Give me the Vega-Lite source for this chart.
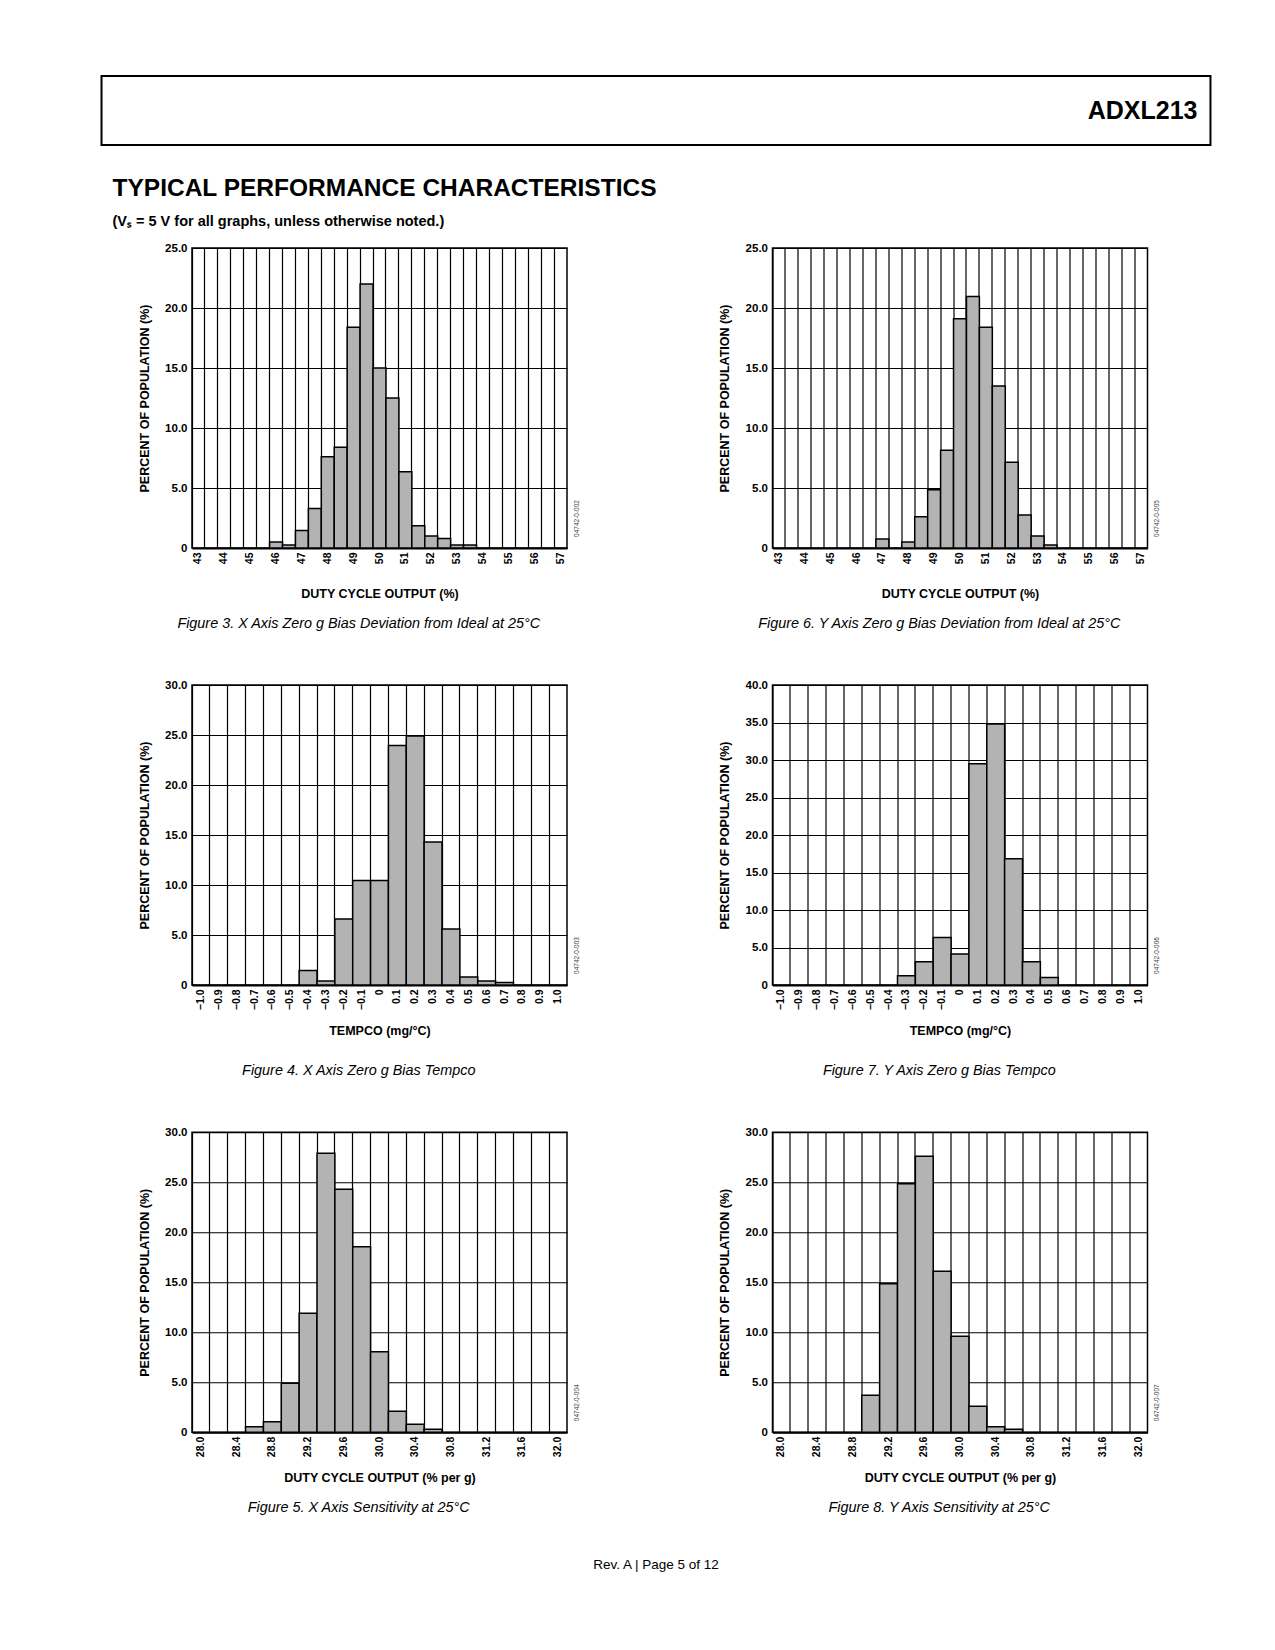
{
  "$schema": "https://vega.github.io/schema/vega-lite/v6.json",
  "background": "white",
  "padding": {"left": 100, "top": 75, "right": 0, "bottom": 0},
  "spacing": 103,
  "bounds": "flush",
  "title": {"text": "Rev. A | Page 5 of 12", "orient": "bottom", "anchor": "middle", "frame": "bounds", "fontStyle": "normal", "fontSize": 13.5, "offset": 43},
  "config": {
    "view": {"stroke": null},
    "font": "Liberation Sans",
    "title": {"font": "Liberation Sans", "fontStyle": "italic", "fontWeight": "normal", "fontSize": 14.4, "color": "black", "orient": "bottom", "anchor": "middle", "frame": "bounds"},
    "axis": {"labelFont": "Liberation Sans", "labelFontWeight": "bold", "labelColor": "black", "titleFont": "Liberation Sans", "titleFontWeight": "bold", "titleFontSize": 12.5, "titleColor": "black"},
    "axisBottom": {"grid": true, "gridColor": "black", "gridWidth": 1.2, "gridOpacity": 1, "ticks": false, "domainColor": "black", "domainWidth": 2, "labelAngle": 270, "labelPadding": 4, "labelFontSize": 10.5, "labelOverlap": false},
    "axisLeft": {"grid": true, "gridColor": "black", "gridWidth": 1.2, "gridOpacity": 1, "ticks": false, "domain": false, "labelPadding": 5, "labelFontSize": 11.5},
    "axisRight": {"labels": false, "ticks": false, "domain": false, "grid": false, "titleFont": "Liberation Sans", "titleFontWeight": "normal", "titleFontSize": 6.5, "titleColor": "#3a3a3a"}
  },
  "datasets": {
    "header": [{"part": "ADXL213"}],
    "fig3": [{"bin":"46","pct":0.5},{"bin":"46.5","pct":0.25},{"bin":"47","pct":1.45},{"bin":"47.5","pct":3.3},{"bin":"48","pct":7.6},{"bin":"48.5","pct":8.4},{"bin":"49","pct":18.4},{"bin":"49.5","pct":22.0},{"bin":"50","pct":15.0},{"bin":"50.5","pct":12.5},{"bin":"51","pct":6.35},{"bin":"51.5","pct":1.85},{"bin":"52","pct":1.0},{"bin":"52.5","pct":0.8},{"bin":"53","pct":0.25},{"bin":"53.5","pct":0.25}],
    "fig6": [{"bin":"47","pct":0.75},{"bin":"48","pct":0.5},{"bin":"48.5","pct":2.6},{"bin":"49","pct":4.85},{"bin":"49.5","pct":8.15},{"bin":"50","pct":19.1},{"bin":"50.5","pct":20.95},{"bin":"51","pct":18.4},{"bin":"51.5","pct":13.5},{"bin":"52","pct":7.15},{"bin":"52.5","pct":2.75},{"bin":"53","pct":1.0},{"bin":"53.5","pct":0.25}],
    "fig4": [{"bin":"−0.4","pct":1.45},{"bin":"−0.3","pct":0.4},{"bin":"−0.2","pct":6.6},{"bin":"−0.1","pct":10.45},{"bin":"0","pct":10.45},{"bin":"0.1","pct":23.95},{"bin":"0.2","pct":24.9},{"bin":"0.3","pct":14.3},{"bin":"0.4","pct":5.6},{"bin":"0.5","pct":0.8},{"bin":"0.6","pct":0.4},{"bin":"0.7","pct":0.25}],
    "fig7": [{"bin":"−0.3","pct":1.25},{"bin":"−0.2","pct":3.1},{"bin":"−0.1","pct":6.35},{"bin":"0","pct":4.15},{"bin":"0.1","pct":29.5},{"bin":"0.2","pct":34.8},{"bin":"0.3","pct":16.85},{"bin":"0.4","pct":3.1},{"bin":"0.5","pct":1.0}],
    "fig5": [{"bin":"28.6","pct":0.55},{"bin":"28.8","pct":1.05},{"bin":"29.0","pct":4.9},{"bin":"29.2","pct":11.9},{"bin":"29.4","pct":27.9},{"bin":"29.6","pct":24.3},{"bin":"29.8","pct":18.55},{"bin":"30.0","pct":8.05},{"bin":"30.2","pct":2.1},{"bin":"30.4","pct":0.8},{"bin":"30.6","pct":0.3}],
    "fig8": [{"bin":"29.0","pct":3.7},{"bin":"29.2","pct":14.85},{"bin":"29.4","pct":24.85},{"bin":"29.6","pct":27.6},{"bin":"29.8","pct":16.1},{"bin":"30.0","pct":9.6},{"bin":"30.2","pct":2.6},{"bin":"30.4","pct":0.55},{"bin":"30.6","pct":0.3}]
  },
  "vconcat": [
    {
      "width": 955.5, "height": 69,
      "title": {"text": "TYPICAL PERFORMANCE CHARACTERISTICS", "subtitle": "(Vₛ = 5 V for all graphs, unless otherwise noted.)", "anchor": "start", "frame": "group", "offset": 31, "dx": -79.5, "font": "Liberation Sans", "fontStyle": "normal", "fontWeight": "bold", "fontSize": 24.5, "subtitleFont": "Liberation Sans", "subtitleFontStyle": "normal", "subtitleFontWeight": "bold", "subtitleFontSize": 14.5, "subtitleColor": "black", "subtitlePadding": 13},
      "data": {"name": "header"},
      "layer": [
        {"mark": {"type": "rect", "fill": "white", "stroke": "black", "strokeWidth": 2},
         "encoding": {
           "x": {"datum": -0.0947, "type": "quantitative", "scale": {"domain": [0, 1], "nice": false}, "axis": null},
           "x2": {"datum": 1.0659},
           "y": {"datum": 0, "type": "quantitative", "scale": {"domain": [0, 1], "nice": false}, "axis": null},
           "y2": {"datum": 1}
         }},
        {"mark": {"type": "text", "dx": -13, "align": "right", "baseline": "middle", "font": "Liberation Sans", "fontSize": 25, "fontWeight": "bold", "color": "black"},
         "encoding": {
           "x": {"datum": 1.0659, "type": "quantitative"},
           "y": {"datum": 0.5, "type": "quantitative"},
           "text": {"field": "part"}
         }}
      ]
    },
    {
      "vconcat": [
        {
          "concat": [
            {
              "width": 375, "height": 300,
              "view": {"stroke": "black", "strokeWidth": 1.5},
              "title": {"text": "Figure 3. X Axis Zero g Bias Deviation from Ideal at 25°C", "offset": 17},
              "data": {"name": "fig3"},
              "layer": [
                {"mark": {"type": "bar", "fill": "#b3b3b3", "stroke": "black", "strokeWidth": 1.5},
                 "encoding": {
                   "x": {"field": "bin", "type": "ordinal", "scale": {"domain": ["43","43.5","44","44.5","45","45.5","46","46.5","47","47.5","48","48.5","49","49.5","50","50.5","51","51.5","52","52.5","53","53.5","54","54.5","55","55.5","56","56.5","57"], "paddingInner": 0, "paddingOuter": 0},
                         "axis": {"title": "DUTY CYCLE OUTPUT (%)", "bandPosition": 0, "labelExpr": "indexof(datum.value, '.') < 0 ? datum.value : ''", "titleY": 45, "titleBaseline": "middle"}},
                   "y": {"field": "pct", "type": "quantitative", "stack": null, "scale": {"domain": [0, 25], "nice": false},
                         "axis": {"title": "PERCENT OF POPULATION (%)", "values": [0, 5, 10, 15, 20, 25], "labelExpr": "datum.value == 0 ? '0' : format(datum.value, '.1f')", "titleX": -48, "titleBaseline": "middle"}}
                 }},
                {"mark": {"type": "bar", "opacity": 0},
                 "encoding": {"y": {"field": "pct", "type": "quantitative", "stack": null, "scale": {"domain": [0, 25], "nice": false},
                   "axis": {"orient": "right", "title": "04742-0-002", "titleX": 9, "titleY": 270, "titleAngle": 270, "titleAlign": "center", "titleBaseline": "middle"}}}}
              ],
              "resolve": {"axis": {"y": "independent"}}
            },
            {
              "width": 375, "height": 300,
              "view": {"stroke": "black", "strokeWidth": 1.5},
              "title": {"text": "Figure 6. Y Axis Zero g Bias Deviation from Ideal at 25°C", "offset": 17},
              "data": {"name": "fig6"},
              "layer": [
                {"mark": {"type": "bar", "fill": "#b3b3b3", "stroke": "black", "strokeWidth": 1.5},
                 "encoding": {
                   "x": {"field": "bin", "type": "ordinal", "scale": {"domain": ["43","43.5","44","44.5","45","45.5","46","46.5","47","47.5","48","48.5","49","49.5","50","50.5","51","51.5","52","52.5","53","53.5","54","54.5","55","55.5","56","56.5","57"], "paddingInner": 0, "paddingOuter": 0},
                         "axis": {"title": "DUTY CYCLE OUTPUT (%)", "bandPosition": 0, "labelExpr": "indexof(datum.value, '.') < 0 ? datum.value : ''", "titleY": 45, "titleBaseline": "middle"}},
                   "y": {"field": "pct", "type": "quantitative", "stack": null, "scale": {"domain": [0, 25], "nice": false},
                         "axis": {"title": "PERCENT OF POPULATION (%)", "values": [0, 5, 10, 15, 20, 25], "labelExpr": "datum.value == 0 ? '0' : format(datum.value, '.1f')", "titleX": -48, "titleBaseline": "middle"}}
                 }},
                {"mark": {"type": "bar", "opacity": 0},
                 "encoding": {"y": {"field": "pct", "type": "quantitative", "stack": null, "scale": {"domain": [0, 25], "nice": false},
                   "axis": {"orient": "right", "title": "04742-0-005", "titleX": 9, "titleY": 270, "titleAngle": 270, "titleAlign": "center", "titleBaseline": "middle"}}}}
              ],
              "resolve": {"axis": {"y": "independent"}}
            },
            {
              "width": 375, "height": 300,
              "view": {"stroke": "black", "strokeWidth": 1.5},
              "title": {"text": "Figure 4. X Axis Zero g Bias Tempco", "offset": 27},
              "data": {"name": "fig4"},
              "layer": [
                {"mark": {"type": "bar", "fill": "#b3b3b3", "stroke": "black", "strokeWidth": 1.5},
                 "encoding": {
                   "x": {"field": "bin", "type": "ordinal", "scale": {"domain": ["−1.0","−0.9","−0.8","−0.7","−0.6","−0.5","−0.4","−0.3","−0.2","−0.1","0","0.1","0.2","0.3","0.4","0.5","0.6","0.7","0.8","0.9","1.0"], "paddingInner": 0, "paddingOuter": 0},
                         "axis": {"title": "TEMPCO (mg/°C)", "bandPosition": 0, "titleY": 45, "titleBaseline": "middle"}},
                   "y": {"field": "pct", "type": "quantitative", "stack": null, "scale": {"domain": [0, 30], "nice": false},
                         "axis": {"title": "PERCENT OF POPULATION (%)", "values": [0, 5, 10, 15, 20, 25, 30], "labelExpr": "datum.value == 0 ? '0' : format(datum.value, '.1f')", "titleX": -48, "titleBaseline": "middle"}}
                 }},
                {"mark": {"type": "bar", "opacity": 0},
                 "encoding": {"y": {"field": "pct", "type": "quantitative", "stack": null, "scale": {"domain": [0, 30], "nice": false},
                   "axis": {"orient": "right", "title": "04742-0-003", "titleX": 9, "titleY": 270, "titleAngle": 270, "titleAlign": "center", "titleBaseline": "middle"}}}}
              ],
              "resolve": {"axis": {"y": "independent"}}
            },
            {
              "width": 375, "height": 300,
              "view": {"stroke": "black", "strokeWidth": 1.5},
              "title": {"text": "Figure 7. Y Axis Zero g Bias Tempco", "offset": 27},
              "data": {"name": "fig7"},
              "layer": [
                {"mark": {"type": "bar", "fill": "#b3b3b3", "stroke": "black", "strokeWidth": 1.5},
                 "encoding": {
                   "x": {"field": "bin", "type": "ordinal", "scale": {"domain": ["−1.0","−0.9","−0.8","−0.7","−0.6","−0.5","−0.4","−0.3","−0.2","−0.1","0","0.1","0.2","0.3","0.4","0.5","0.6","0.7","0.8","0.9","1.0"], "paddingInner": 0, "paddingOuter": 0},
                         "axis": {"title": "TEMPCO (mg/°C)", "bandPosition": 0, "titleY": 45, "titleBaseline": "middle"}},
                   "y": {"field": "pct", "type": "quantitative", "stack": null, "scale": {"domain": [0, 40], "nice": false},
                         "axis": {"title": "PERCENT OF POPULATION (%)", "values": [0, 5, 10, 15, 20, 25, 30, 35, 40], "labelExpr": "datum.value == 0 ? '0' : format(datum.value, '.1f')", "titleX": -48, "titleBaseline": "middle"}}
                 }},
                {"mark": {"type": "bar", "opacity": 0},
                 "encoding": {"y": {"field": "pct", "type": "quantitative", "stack": null, "scale": {"domain": [0, 40], "nice": false},
                   "axis": {"orient": "right", "title": "04742-0-006", "titleX": 9, "titleY": 270, "titleAngle": 270, "titleAlign": "center", "titleBaseline": "middle"}}}}
              ],
              "resolve": {"axis": {"y": "independent"}}
            }
          ],
          "columns": 2,
          "spacing": {"row": 137, "column": 205.5},
          "bounds": "flush"
        },
        {
          "hconcat": [
            {
              "width": 375, "height": 300,
              "view": {"stroke": "black", "strokeWidth": 1.5},
              "title": {"text": "Figure 5. X Axis Sensitivity at 25°C", "offset": 17.5},
              "data": {"name": "fig5"},
              "layer": [
                {"mark": {"type": "bar", "fill": "#b3b3b3", "stroke": "black", "strokeWidth": 1.5},
                 "encoding": {
                   "x": {"field": "bin", "type": "ordinal", "scale": {"domain": ["28.0","28.2","28.4","28.6","28.8","29.0","29.2","29.4","29.6","29.8","30.0","30.2","30.4","30.6","30.8","31.0","31.2","31.4","31.6","31.8","32.0"], "paddingInner": 0, "paddingOuter": 0},
                         "axis": {"title": "DUTY CYCLE OUTPUT (% per g)", "bandPosition": 0, "labelExpr": "indexof(['28.0','28.4','28.8','29.2','29.6','30.0','30.4','30.8','31.2','31.6','32.0'], datum.value) >= 0 ? datum.value : ''", "titleY": 45, "titleBaseline": "middle"}},
                   "y": {"field": "pct", "type": "quantitative", "stack": null, "scale": {"domain": [0, 30], "nice": false},
                         "axis": {"title": "PERCENT OF POPULATION (%)", "values": [0, 5, 10, 15, 20, 25, 30], "labelExpr": "datum.value == 0 ? '0' : format(datum.value, '.1f')", "titleX": -48, "titleBaseline": "middle"}}
                 }},
                {"mark": {"type": "bar", "opacity": 0},
                 "encoding": {"y": {"field": "pct", "type": "quantitative", "stack": null, "scale": {"domain": [0, 30], "nice": false},
                   "axis": {"orient": "right", "title": "04742-0-004", "titleX": 9, "titleY": 270, "titleAngle": 270, "titleAlign": "center", "titleBaseline": "middle"}}}}
              ],
              "resolve": {"axis": {"y": "independent"}}
            },
            {
              "width": 375, "height": 300,
              "view": {"stroke": "black", "strokeWidth": 1.5},
              "title": {"text": "Figure 8. Y Axis Sensitivity at 25°C", "offset": 17.5},
              "data": {"name": "fig8"},
              "layer": [
                {"mark": {"type": "bar", "fill": "#b3b3b3", "stroke": "black", "strokeWidth": 1.5},
                 "encoding": {
                   "x": {"field": "bin", "type": "ordinal", "scale": {"domain": ["28.0","28.2","28.4","28.6","28.8","29.0","29.2","29.4","29.6","29.8","30.0","30.2","30.4","30.6","30.8","31.0","31.2","31.4","31.6","31.8","32.0"], "paddingInner": 0, "paddingOuter": 0},
                         "axis": {"title": "DUTY CYCLE OUTPUT (% per g)", "bandPosition": 0, "labelExpr": "indexof(['28.0','28.4','28.8','29.2','29.6','30.0','30.4','30.8','31.2','31.6','32.0'], datum.value) >= 0 ? datum.value : ''", "titleY": 45, "titleBaseline": "middle"}},
                   "y": {"field": "pct", "type": "quantitative", "stack": null, "scale": {"domain": [0, 30], "nice": false},
                         "axis": {"title": "PERCENT OF POPULATION (%)", "values": [0, 5, 10, 15, 20, 25, 30], "labelExpr": "datum.value == 0 ? '0' : format(datum.value, '.1f')", "titleX": -48, "titleBaseline": "middle"}}
                 }},
                {"mark": {"type": "bar", "opacity": 0},
                 "encoding": {"y": {"field": "pct", "type": "quantitative", "stack": null, "scale": {"domain": [0, 30], "nice": false},
                   "axis": {"orient": "right", "title": "04742-0-007", "titleX": 9, "titleY": 270, "titleAngle": 270, "titleAlign": "center", "titleBaseline": "middle"}}}}
              ],
              "resolve": {"axis": {"y": "independent"}}
            }
          ],
          "spacing": 205.5,
          "bounds": "flush"
        }
      ],
      "spacing": 47.25
    }
  ]
}
